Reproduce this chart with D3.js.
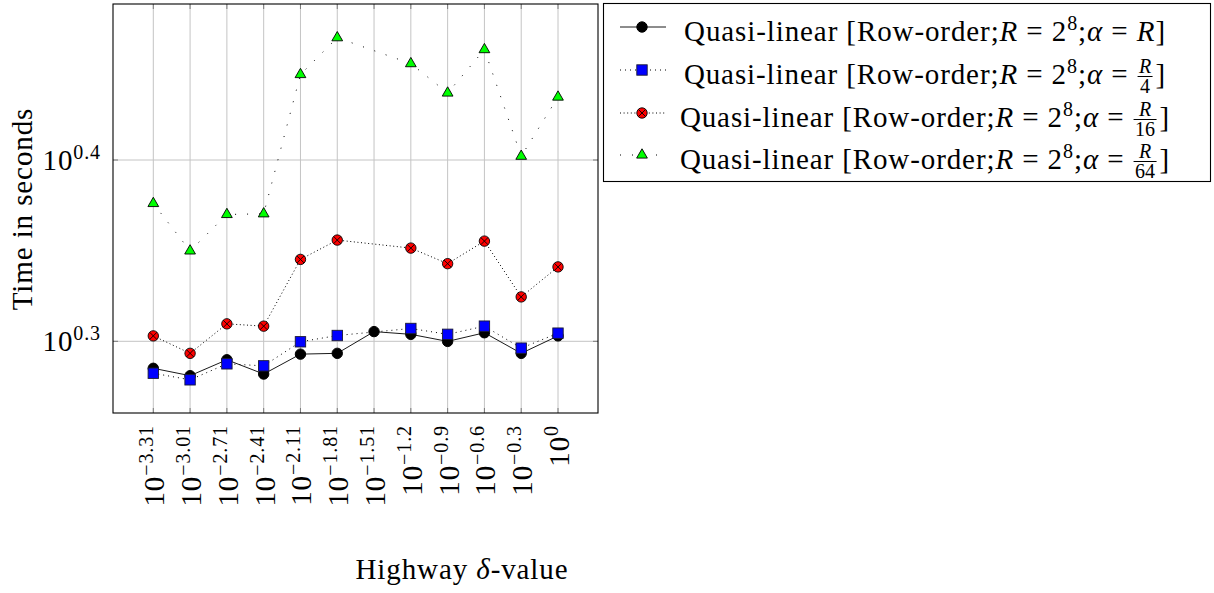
<!DOCTYPE html>
<html>
<head>
<meta charset="utf-8">
<script src="https://cdn.jsdelivr.net/npm/d3@7"></script>
<style>
  body { margin: 0; background: #fff; }
  svg text { font-family: "Liberation Serif", serif; fill: #000; letter-spacing: 0.9px; }
</style>
</head>
<body>
<div id="chart"></div>
<script>
/* DATA */
const tickExponents = ["\u22123.31", "\u22123.01", "\u22122.71", "\u22122.41", "\u22122.11", "\u22121.81",
                       "\u22121.51", "\u22121.2", "\u22120.9", "\u22120.6", "\u22120.3", "0"];
const yTickExponents = [0.3, 0.4];

// seconds (null = no point)
const alphaR   = [1.928, 1.910, 1.949, 1.914, 1.963, 1.965, 2.020, 2.013, 1.995, 2.017, 1.965, 2.009];
const alphaR4  = [1.916, 1.900, 1.939, 1.934, 1.994, 2.010, null, 2.028, 2.013, 2.034, 1.978, 2.016];
const alphaR16 = [2.009, 1.965, 2.040, 2.034, 2.214, 2.269, null, 2.246, 2.202, 2.266, 2.111, 2.193];
const alphaR64 = [2.377, 2.238, 2.344, 2.346, 2.800, 2.934, null, 2.839, 2.735, 2.890, 2.524, 2.721];

const legendDenoms = [null, "4", "16", "64"];

/* CONSTANTS */
const width = 1214;
const height = 593;
const plot = { left: 113, right: 598, top: 4, bottom: 413 };
const fs = 29;

const svg = d3.select("#chart").append("svg")
    .attr("width", width)
    .attr("height", height);

/* SCALES */
const xScale = d3.scaleLinear()
    .domain([0, tickExponents.length - 1])
    .range([153.3, 558]);

const yScale = d3.scaleLog()
    .domain([Math.pow(10, 0.26045), Math.pow(10, 0.48605)])
    .range([plot.bottom, plot.top]);

// GRID
svg.append("g")
    .selectAll("line")
    .data(tickExponents)
    .join("line")
    .attr("x1", (d, i) => xScale(i)).attr("x2", (d, i) => xScale(i))
    .attr("y1", plot.top).attr("y2", plot.bottom)
    .attr("stroke", "#c4c4c4").attr("stroke-width", 1);

svg.append("g")
    .selectAll("line")
    .data(yTickExponents)
    .join("line")
    .attr("x1", plot.left).attr("x2", plot.right)
    .attr("y1", d => yScale(Math.pow(10, d))).attr("y2", d => yScale(Math.pow(10, d)))
    .attr("stroke", "#c4c4c4").attr("stroke-width", 1);

// TICKS (inside, top/bottom and left/right)
const tickG = svg.append("g").attr("stroke", "#7a7a7a").attr("stroke-width", 1);
tickExponents.forEach((d, i) => {
    const x = xScale(i);
    tickG.append("line").attr("x1", x).attr("x2", x).attr("y1", plot.bottom).attr("y2", plot.bottom - 5);
    tickG.append("line").attr("x1", x).attr("x2", x).attr("y1", plot.top).attr("y2", plot.top + 5);
});
yTickExponents.forEach(d => {
    const y = yScale(Math.pow(10, d));
    tickG.append("line").attr("x1", plot.left).attr("x2", plot.left + 5).attr("y1", y).attr("y2", y);
    tickG.append("line").attr("x1", plot.right).attr("x2", plot.right - 5).attr("y1", y).attr("y2", y);
});

/* MARKERS */
function drawMarker(g, type) {
    if (type === "circle") {
        g.append("circle").attr("r", 5.2).attr("fill", "#000").attr("stroke", "#000");
    } else if (type === "square") {
        g.append("rect").attr("x", -5.2).attr("y", -5.2).attr("width", 10.4).attr("height", 10.4)
            .attr("fill", "#0000ff").attr("stroke", "#1a1a33").attr("stroke-width", 0.9);
    } else if (type === "otimes") {
        g.append("circle").attr("r", 5.2).attr("fill", "#ff0000").attr("stroke", "#000").attr("stroke-width", 0.9);
        g.append("path").attr("d", "M-3.6,-3.6L3.6,3.6M-3.6,3.6L3.6,-3.6")
            .attr("stroke", "#000").attr("stroke-width", 0.9);
    } else {
        g.append("path").attr("d", d3.symbol(d3.symbolTriangle, 50)())
            .attr("fill", "#00ff00").attr("stroke", "#000").attr("stroke-width", 0.9);
    }
}

const series = [
    { values: alphaR,   marker: "circle", dash: null },
    { values: alphaR4,  marker: "square", dash: "1,4" },
    { values: alphaR16, marker: "otimes", dash: "1,2.6" },
    { values: alphaR64, marker: "triangle", dash: "1,11" }
];

const line = d3.line()
    .x(d => xScale(d.i))
    .y(d => yScale(d.v));

series.forEach(s => {
    const pts = s.values.map((v, i) => ({ i, v })).filter(d => d.v !== null);
    svg.append("path")
        .attr("d", line(pts))
        .attr("fill", "none")
        .attr("stroke", "#000")
        .attr("stroke-width", s.dash ? 1 : 0.9)
        .attr("stroke-dasharray", s.dash);
    pts.forEach(d => {
        const g = svg.append("g").attr("transform", "translate(" + xScale(d.i) + "," + yScale(d.v) + ")");
        drawMarker(g, s.marker);
    });
});

// FRAME
svg.append("rect")
    .attr("x", plot.left).attr("y", plot.top)
    .attr("width", plot.right - plot.left).attr("height", plot.bottom - plot.top)
    .attr("fill", "none").attr("stroke", "#000").attr("stroke-width", 1.1);

/* TICK LABELS */
tickExponents.forEach((d, i) => {
    const t = svg.append("text")
        .attr("transform", "translate(" + (xScale(i) + 11) + ",425) rotate(-90)")
        .attr("text-anchor", "end")
        .style("font-size", fs + "px");
    t.append("tspan").text("10");
    t.append("tspan").attr("dy", -11).style("font-size", "20px").text(d);
});

yTickExponents.forEach(d => {
    const t = svg.append("text")
        .attr("x", 101)
        .attr("y", yScale(Math.pow(10, d)) + 10)
        .attr("text-anchor", "end")
        .style("font-size", fs + "px");
    t.append("tspan").text("10");
    t.append("tspan").attr("dy", -11).style("font-size", "20px").text(d.toFixed(1));
});

/* AXIS LABELS */
svg.append("text")
    .attr("transform", "translate(32,209) rotate(-90)")
    .attr("text-anchor", "middle")
    .style("font-size", fs + "px")
    .text("Time in seconds");

const xl = svg.append("text")
    .attr("x", 462).attr("y", 579)
    .attr("text-anchor", "middle")
    .style("font-size", fs + "px");
xl.append("tspan").text("Highway ");
xl.append("tspan").style("font-style", "italic").text("\u03b4");
xl.append("tspan").text("-value");

/* LEGEND */
svg.append("rect")
    .attr("x", 603.5).attr("y", 3.5).attr("width", 607).attr("height", 178)
    .attr("fill", "#fff").attr("stroke", "#000").attr("stroke-width", 1.1);

const rowY = [27, 70, 113, 155];
const legendCenter = 925;
const eq = "\u00a0=\u00a0";

series.forEach((s, k) => {
    const y = rowY[k];
    svg.append("line")
        .attr("x1", 620).attr("x2", 666).attr("y1", y).attr("y2", y)
        .attr("stroke", "#000").attr("stroke-width", s.dash ? 1 : 0.9)
        .attr("stroke-dasharray", s.dash);
    drawMarker(svg.append("g").attr("transform", "translate(642," + y + ")"), s.marker);

    const g = svg.append("g");
    const base = y + 14;
    const t = g.append("text").attr("x", 0).attr("y", base).style("font-size", fs + "px");
    t.append("tspan").text("Quasi-linear [Row-order;");
    t.append("tspan").style("font-style", "italic").text("R");
    t.append("tspan").text(eq + "2");
    t.append("tspan").attr("dy", -11).style("font-size", "20px").text("8");
    t.append("tspan").attr("dy", 11).text(";");
    t.append("tspan").style("font-style", "italic").text("\u03b1");
    t.append("tspan").text(eq);
    let total;
    if (legendDenoms[k] === null) {
        t.append("tspan").style("font-style", "italic").text("R");
        t.append("tspan").text("]");
        total = t.node().getComputedTextLength();
    } else {
        const x0 = t.node().getComputedTextLength() + 1;
        const fw = legendDenoms[k].length > 1 ? 23 : 15;
        const axisY = base - 7.5;
        g.append("line")
            .attr("x1", x0).attr("x2", x0 + fw).attr("y1", axisY).attr("y2", axisY)
            .attr("stroke", "#000").attr("stroke-width", 1);
        g.append("text").attr("x", x0 + fw / 2).attr("y", axisY - 4)
            .attr("text-anchor", "middle").style("font-size", "20px").style("font-style", "italic")
            .style("letter-spacing", "0px").text("R");
        g.append("text").attr("x", x0 + fw / 2).attr("y", axisY + 16)
            .attr("text-anchor", "middle").style("font-size", "20px")
            .style("letter-spacing", "0px").text(legendDenoms[k]);
        const br = g.append("text").attr("x", x0 + fw + 3).attr("y", base)
            .style("font-size", fs + "px").text("]");
        total = x0 + fw + 3 + br.node().getComputedTextLength();
    }
    g.attr("transform", "translate(" + (legendCenter - total / 2) + ",0)");
});
</script>
</body>
</html>
